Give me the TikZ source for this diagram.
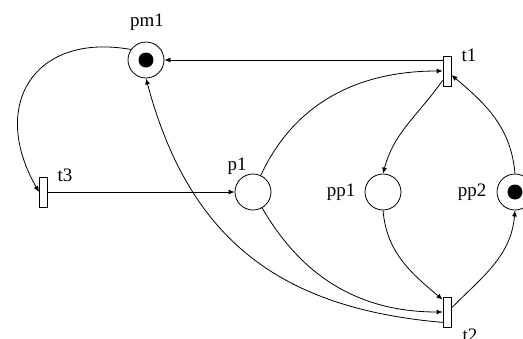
\documentclass[tikz,border=0pt]{standalone}
\usepackage{fontspec}
\setmainfont{Liberation Serif}
\usetikzlibrary{arrows.meta,positioning}

\begin{document}
\begin{tikzpicture}[x=1pt, y=1pt,
  place/.style={
    circle, draw, line width=0.8pt,
    minimum size=36pt, inner sep=0pt
  },
  token/.style={circle, fill=black, minimum size=15pt, inner sep=0pt},
  trans/.style={
    rectangle, draw, line width=0.8pt,
    minimum width=8pt, minimum height=30pt, inner sep=0pt
  },
  lbl/.style={font=\fontsize{19}{22}\selectfont, inner sep=0pt},
  arc/.style={line width=0.8pt, -{Latex[length=6pt,width=5pt]}}
]
\useasboundingbox (0,0) rectangle (523,-338);

% places
\node[place] (pm1) at (146,-60) {};
\node[place] (p1) at (253,-192) {};
\node[place] (pp1) at (383,-192) {};
\node[place] (pp2) at (515,-192) {};
\node[token] (pm1tok) at (pm1) {};
\node[token] (pp2tok) at (pp2) {};

% transitions
\node[trans] (t1) at (447,-71) {};
\node[trans] (t2) at (447,-312) {};
\node[trans] (t3) at (43.5,-192) {};

% names
\node[lbl] (pm1lbl) at (147,-22) {pm1};
\node[lbl] (p1lbl) at (237,-166.5) {p1};
\node[lbl] (pp1lbl) at (341,-192.5) {pp1};
\node[lbl] (pp2lbl) at (472,-192.5) {pp2};
\node[lbl] (t1lbl) at (469,-55) {t1};
\node[lbl] (t2lbl) at (470,-335.5) {t2};
\node[lbl] (t3lbl) at (65,-175) {t3};

% arcs
\draw[arc] (t3.east) -- (p1.west);
\draw[arc] (t1.west |- pm1.east) -- (pm1.east);
\draw[arc] (pm1.145) to[out=170, in=120, looseness=1.5] (t3.west);
\draw[arc] (p1.65) to[out=65, in=180] (t1.west);
\draw[arc] ([yshift=6pt]t1.south west) to[out=235, in=75] (pp1.north);
\draw[arc] (pp2.north) to[out=95, in=-40] ([yshift=-4pt]t1.east);
\draw[arc] (p1.-60) to[out=-60, in=180] (t2.west);
\draw[arc] (pp1.south) to[out=-85, in=140] ([yshift=-3pt]t2.north west);
\draw[arc] ([yshift=5pt]t2.south west) to[out=175, in=-75, looseness=1.1] (pm1.south);
\draw[arc] ([yshift=4pt]t2.east) to[out=45, in=-95] (pp2.south);

\end{tikzpicture}
\end{document}
